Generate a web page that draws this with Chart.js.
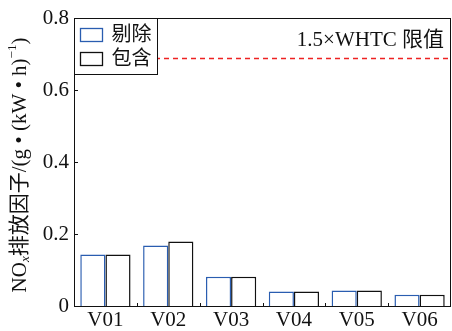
<!DOCTYPE html>
<html>
<head>
<meta charset="utf-8">
<script src="https://cdn.jsdelivr.net/npm/chart.js@4/dist/chart.umd.min.js"></script>
<style>
  html, body { margin: 0; padding: 0; background: #fff; }
  #wrap { width: 452px; height: 331px; }
</style>
</head>
<body>
<div id="wrap"><canvas id="c" width="452" height="331"></canvas></div>
<script>
// Vehicles and NOx emission factors, g/(kW·h)
const vehicles = ['V01', 'V02', 'V03', 'V04', 'V05', 'V06'];
const excluded = [0.143, 0.168, 0.081, 0.040, 0.043, 0.031];   // 剔除
const included = [0.143, 0.179, 0.081, 0.040, 0.043, 0.031];   // 包含
const seriesNames = ['剔除', '包含'];
const limitValue = 0.69;                                        // 1.5×WHTC
const limitLabel = '1.5×WHTC 限值';
const yTicks = [0, 0.2, 0.4, 0.6, 0.8];

const SERIF = '"Liberation Serif", "Times New Roman", "Noto Sans CJK SC", serif';

// Frame, inward ticks, limit line, legend and rotated axis title
const decor = {
  id: 'decor',
  afterDatasetsDraw(chart) {
    const { ctx, chartArea: a, scales: { x, y } } = chart;
    ctx.save();

    // limit line
    const ly = Math.round(y.getPixelForValue(limitValue)) + 0.5;
    ctx.strokeStyle = '#ee2222';
    ctx.lineWidth = 1.5;
    ctx.setLineDash([5, 4]);
    ctx.beginPath(); ctx.moveTo(a.left, ly); ctx.lineTo(a.right, ly); ctx.stroke();
    ctx.setLineDash([]);

    ctx.fillStyle = '#111';
    ctx.font = '21px ' + SERIF;
    ctx.textAlign = 'right';
    ctx.textBaseline = 'middle';
    ctx.fillText(limitLabel, a.right - 7, y.getPixelForValue(limitValue) - 17);

    // frame
    ctx.strokeStyle = '#111';
    ctx.lineWidth = 1;
    ctx.strokeRect(Math.round(a.left) + 0.5, Math.round(a.top) + 0.5,
                   Math.round(a.right - a.left) - 1, Math.round(a.bottom - a.top));

    // inward y ticks
    ctx.beginPath();
    yTicks.forEach(v => {
      const py = Math.round(y.getPixelForValue(v)) + 0.5;
      ctx.moveTo(a.left, py); ctx.lineTo(a.left + 4, py);
    });
    // inward ticks at category boundaries
    for (let i = 0; i < vehicles.length - 1; i++) {
      const px = Math.round(x.getPixelForValue(i + 0.5)) + 0.5;
      ctx.moveTo(px, a.bottom); ctx.lineTo(px, a.bottom - 3);
    }
    ctx.stroke();

    // legend
    const lx = Math.round(a.left) + 0.5, lt = Math.round(a.top) + 0.5;
    ctx.fillStyle = '#fff';
    ctx.fillRect(lx, lt, 83, 56);
    ctx.strokeStyle = '#111';
    ctx.strokeRect(lx, lt, 83, 56);
    ctx.font = '20px ' + SERIF;
    ctx.textAlign = 'left';
    chart.data.datasets.forEach((ds, i) => {
      const cy = lt + 16 + i * 24;
      ctx.strokeStyle = ds.borderColor;
      ctx.lineWidth = 1.3;
      ctx.strokeRect(lx + 6, cy - 6, 22, 13);
      ctx.fillStyle = '#111';
      ctx.fillText(ds.label, lx + 37, cy + 1);
    });

    ctx.restore();
  },
  afterDraw(chart) {
    // y-axis title with subscript / superscript
    const { ctx, chartArea: a } = chart;
    const parts = [
      { t: 'NO', s: 21, dy: 0 },
      { t: 'x', s: 13, dy: 6, italic: true },
      { t: '排放因子/(g • (kW • h)', s: 21, dy: 0 },
      { t: '−1', s: 13, dy: -7 },
      { t: ')', s: 21, dy: 0 }
    ];
    ctx.save();
    let total = 0;
    parts.forEach(p => {
      ctx.font = (p.italic ? 'italic ' : '') + p.s + 'px ' + SERIF;
      p.w = ctx.measureText(p.t).width;
      total += p.w;
    });
    ctx.translate(20, (a.top + a.bottom) / 2 + 3);
    ctx.rotate(-Math.PI / 2);
    ctx.fillStyle = '#111';
    ctx.textBaseline = 'middle';
    ctx.textAlign = 'left';
    let cx = -total / 2;
    parts.forEach(p => {
      ctx.font = (p.italic ? 'italic ' : '') + p.s + 'px ' + SERIF;
      ctx.fillText(p.t, cx, p.dy);
      cx += p.w;
    });
    ctx.restore();
  }
};

new Chart(document.getElementById('c'), {
  type: 'bar',
  data: {
    labels: vehicles,
    datasets: [
      { label: seriesNames[0], data: excluded, backgroundColor: '#ffffff',
        borderColor: '#2a5db0', borderWidth: 1.5, borderSkipped: 'bottom' },
      { label: seriesNames[1], data: included, backgroundColor: '#ffffff',
        borderColor: '#111111', borderWidth: 1.5, borderSkipped: 'bottom' }
    ]
  },
  options: {
    responsive: false,
    animation: false,
    devicePixelRatio: 1,
    layout: { padding: { top: 18, right: 1, left: 0, bottom: 0 } },
    plugins: { legend: { display: false }, tooltip: { enabled: false } },
    datasets: { bar: { categoryPercentage: 0.8, barPercentage: 1.0 } },
    scales: {
      x: {
        grid: { display: false, drawTicks: false },
        border: { display: false },
        ticks: { color: '#111', font: { family: SERIF, size: 21 }, padding: 2 },
        afterFit(s) { s.height = 25; }
      },
      y: {
        min: 0, max: 0.8,
        afterBuildTicks(s) { s.ticks = yTicks.map(v => ({ value: v })); },
        grid: { display: false, drawTicks: false },
        border: { display: false },
        ticks: { color: '#111', font: { family: SERIF, size: 21 }, padding: 5,
                 callback: v => String(v) },
        afterFit(s) { s.width = 74; }
      }
    }
  },
  plugins: [decor]
});
</script>
</body>
</html>
